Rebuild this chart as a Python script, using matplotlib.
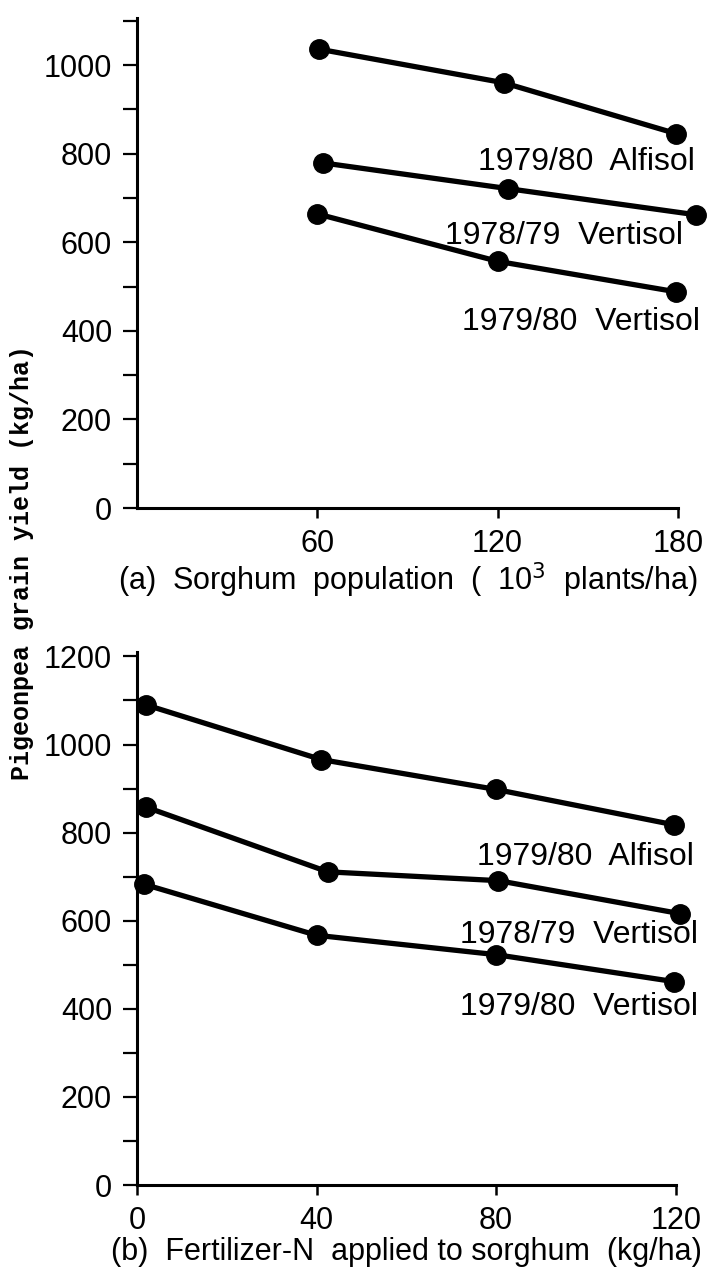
import matplotlib
matplotlib.use("Agg")
import matplotlib.pyplot as plt
from matplotlib.ticker import MultipleLocator, FixedLocator

plt.rcParams['font.family'] = ['Liberation Sans', 'DejaVu Sans']

# ---- data: panel (a) sorghum population (10^3 plants/ha)
a_alf_x = [60.5, 122, 179.5]
a_alf_y = [1036, 960, 845]
a_v78_x = [62, 123.5, 186]
a_v78_y = [779, 721, 662]
a_v80_x = [60, 120, 179.5]
a_v80_y = [664, 557, 488]

# ---- data: panel (b) fertilizer N (kg/ha)
b_alf_x = [2, 41, 80, 119.5]
b_alf_y = [1090, 966, 898, 818]
b_v78_x = [2, 42.5, 80.5, 121]
b_v78_y = [858, 711, 691, 616]
b_v80_x = [1.5, 40, 80, 119.5]
b_v80_y = [683, 567, 523, 462]

labels = ["1979/80  Alfisol", "1978/79  Vertisol", "1979/80  Vertisol"]
a_xticks = [60, 120, 180]
b_xticks = [0, 40, 80, 120]

fig = plt.figure(figsize=(7.07, 12.73), dpi=100)

TS = 22
AS = 23
lw = 3.8
ms = 14

def style(ax):
    for s in ['top', 'right']:
        ax.spines[s].set_visible(False)
    for s in ['left', 'bottom']:
        ax.spines[s].set_linewidth(2.2)
    ax.yaxis.set_major_locator(MultipleLocator(200))
    ax.yaxis.set_minor_locator(MultipleLocator(100))
    ax.tick_params(axis='y', which='both', direction='out', length=10, width=1.6,
                   labelsize=TS, pad=8)
    ax.tick_params(axis='x', which='major', direction='out', length=7, width=1.8,
                   labelsize=TS, pad=8)

# panel (a)
ax1 = fig.add_axes([0.1938, 0.6009, 0.765, 0.3849])
for xs, ys in [(a_alf_x, a_alf_y), (a_v78_x, a_v78_y), (a_v80_x, a_v80_y)]:
    ax1.plot(xs, ys, '-o', color='black', lw=lw, ms=ms, clip_on=False)
ax1.set_xlim(0, 180)
ax1.set_ylim(0, 1106)
ax1.xaxis.set_major_locator(FixedLocator(a_xticks))
style(ax1)
ax1.set_xlabel("(a)  Sorghum  population  (  10$^3$  plants/ha)", fontsize=22, labelpad=1)
ax1.text(113.4, 781, labels[0], fontsize=AS, ha='left', va='center', clip_on=False)
ax1.text(102.5, 614, labels[1], fontsize=AS, ha='left', va='center', clip_on=False)
ax1.text(108, 421, labels[2], fontsize=AS, ha='left', va='center', clip_on=False)

# panel (b)
ax2 = fig.add_axes([0.1938, 0.0691, 0.762, 0.4187])
for xs, ys in [(b_alf_x, b_alf_y), (b_v78_x, b_v78_y), (b_v80_x, b_v80_y)]:
    ax2.plot(xs, ys, '-o', color='black', lw=lw, ms=ms, clip_on=False)
ax2.set_xlim(0, 120)
ax2.set_ylim(0, 1210)
ax2.xaxis.set_major_locator(FixedLocator(b_xticks))
style(ax2)
ax2.set_xlabel("(b)  Fertilizer-N  applied to sorghum  (kg/ha)", fontsize=22, labelpad=1)
ax2.text(75.7, 745, labels[0], fontsize=AS, ha='left', va='center', clip_on=False)
ax2.text(72, 568, labels[1], fontsize=AS, ha='left', va='center', clip_on=False)
ax2.text(72, 405, labels[2], fontsize=AS, ha='left', va='center', clip_on=False)

fig.text(0.031, 1 - 562 / 1273, "Pigeonpea grain yield (kg/ha)", rotation=90,
         ha='center', va='center', fontsize=18, fontweight='bold',
         family=['Liberation Mono', 'DejaVu Sans Mono'])

fig.savefig("out.png", dpi=100)
